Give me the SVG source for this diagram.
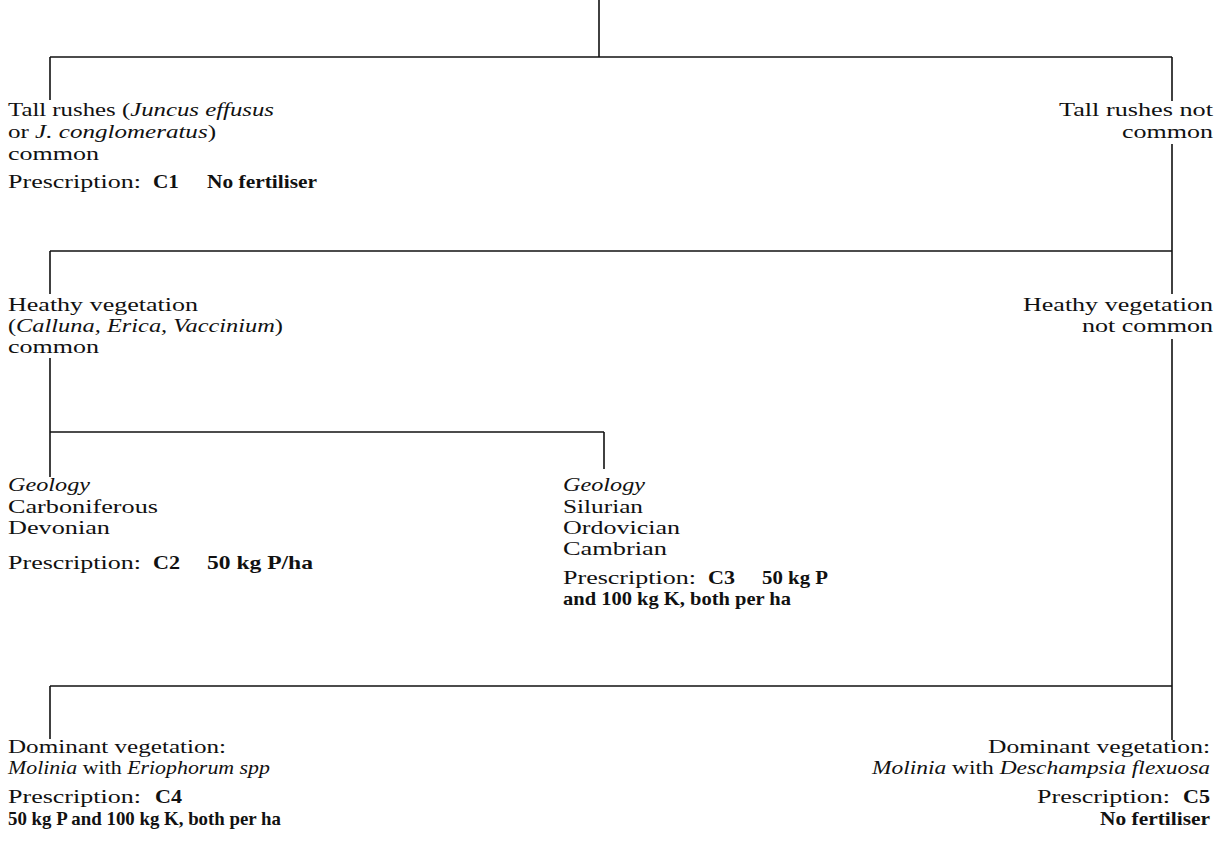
<svg xmlns="http://www.w3.org/2000/svg" width="1231" height="850" viewBox="0 0 1231 850">
<style>
text{font-family:"Liberation Serif","Times New Roman",serif;font-size:19px;fill:#111}
.i{font-style:italic}
.b{font-weight:bold}
.ln{stroke:#111;stroke-width:1.6;fill:none}
</style>
<rect width="1231" height="850" fill="#fff"/>
<g id="connectors" class="ln">
<path d="M599,0V57"/>
<path d="M50,57H1172"/>
<path d="M50,57V100"/>
<path d="M1172,57V101"/>
<path d="M1172,144V294"/>
<path d="M50,251H1172"/>
<path d="M50,251V294"/>
<path d="M50,358V477"/>
<path d="M50,432H604"/>
<path d="M604,432V469"/>
<path d="M1172,339V740"/>
<path d="M50,686H1172"/>
<path d="M50,686V739"/>
</g>
<g id="node-rushes-common">
<text x="8" y="116" textLength="266" lengthAdjust="spacingAndGlyphs">Tall rushes (<tspan class="i">Juncus effusus</tspan></text>
<text x="8" y="138" textLength="208" lengthAdjust="spacingAndGlyphs">or <tspan class="i">J. conglomeratus</tspan>)</text>
<text x="8" y="160" textLength="91" lengthAdjust="spacingAndGlyphs">common</text>
<text x="8" y="188" textLength="133" lengthAdjust="spacingAndGlyphs">Prescription:</text>
<text class="b" x="153" y="188" textLength="26" lengthAdjust="spacingAndGlyphs">C1</text>
<text class="b" x="207" y="188" textLength="110" lengthAdjust="spacingAndGlyphs">No fertiliser</text>
</g>
<g id="node-rushes-not-common">
<text x="1059" y="116" textLength="154" lengthAdjust="spacingAndGlyphs">Tall rushes not</text>
<text x="1122" y="138" textLength="91" lengthAdjust="spacingAndGlyphs">common</text>
</g>
<g id="node-heathy-common">
<text x="8" y="311" textLength="190" lengthAdjust="spacingAndGlyphs">Heathy vegetation</text>
<text x="8" y="332" textLength="275" lengthAdjust="spacingAndGlyphs">(<tspan class="i">Calluna, Erica, Vaccinium</tspan>)</text>
<text x="8" y="353" textLength="91" lengthAdjust="spacingAndGlyphs">common</text>
</g>
<g id="node-heathy-not-common">
<text x="1023" y="311" textLength="190" lengthAdjust="spacingAndGlyphs">Heathy vegetation</text>
<text x="1082" y="332" textLength="131" lengthAdjust="spacingAndGlyphs">not common</text>
</g>
<g id="node-geology-carboniferous">
<text class="i" x="8" y="491" textLength="82" lengthAdjust="spacingAndGlyphs">Geology</text>
<text x="8" y="513" textLength="150" lengthAdjust="spacingAndGlyphs">Carboniferous</text>
<text x="8" y="534" textLength="102" lengthAdjust="spacingAndGlyphs">Devonian</text>
<text x="8" y="569" textLength="133" lengthAdjust="spacingAndGlyphs">Prescription:</text>
<text class="b" x="153" y="569" textLength="27" lengthAdjust="spacingAndGlyphs">C2</text>
<text class="b" x="207" y="569" textLength="106" lengthAdjust="spacingAndGlyphs">50 kg P/ha</text>
</g>
<g id="node-geology-silurian">
<text class="i" x="563" y="491" textLength="82" lengthAdjust="spacingAndGlyphs">Geology</text>
<text x="563" y="513" textLength="80" lengthAdjust="spacingAndGlyphs">Silurian</text>
<text x="563" y="534" textLength="117" lengthAdjust="spacingAndGlyphs">Ordovician</text>
<text x="563" y="555" textLength="104" lengthAdjust="spacingAndGlyphs">Cambrian</text>
<text x="563" y="584" textLength="133" lengthAdjust="spacingAndGlyphs">Prescription:</text>
<text class="b" x="708" y="584" textLength="27" lengthAdjust="spacingAndGlyphs">C3</text>
<text class="b" x="762" y="584" textLength="66" lengthAdjust="spacingAndGlyphs">50 kg P</text>
<text class="b" x="563" y="605" textLength="228" lengthAdjust="spacingAndGlyphs">and 100 kg K, both per ha</text>
</g>
<g id="node-molinia-eriophorum">
<text x="8" y="753" textLength="218" lengthAdjust="spacingAndGlyphs">Dominant vegetation:</text>
<text x="8" y="774" textLength="262" lengthAdjust="spacingAndGlyphs"><tspan class="i">Molinia</tspan> with <tspan class="i">Eriophorum spp</tspan></text>
<text x="8" y="803" textLength="133" lengthAdjust="spacingAndGlyphs">Prescription:</text>
<text class="b" x="155" y="803" textLength="27" lengthAdjust="spacingAndGlyphs">C4</text>
<text class="b" x="8" y="825" textLength="273" lengthAdjust="spacingAndGlyphs">50 kg P and 100 kg K, both per ha</text>
</g>
<g id="node-molinia-deschampsia">
<text x="988" y="753" textLength="222" lengthAdjust="spacingAndGlyphs">Dominant vegetation:</text>
<text x="872" y="774" textLength="338" lengthAdjust="spacingAndGlyphs"><tspan class="i">Molinia</tspan> with <tspan class="i">Deschampsia flexuosa</tspan></text>
<text x="1037" y="803" textLength="133" lengthAdjust="spacingAndGlyphs">Prescription:</text>
<text class="b" x="1183" y="803" textLength="27" lengthAdjust="spacingAndGlyphs">C5</text>
<text class="b" x="1100" y="825" textLength="110" lengthAdjust="spacingAndGlyphs">No fertiliser</text>
</g>
</svg>
